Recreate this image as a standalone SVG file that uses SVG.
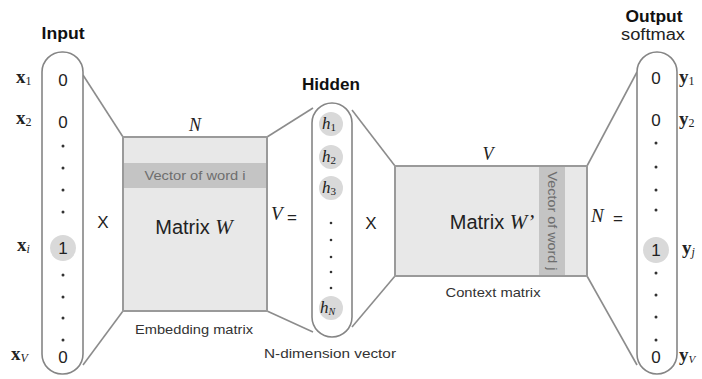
<svg xmlns="http://www.w3.org/2000/svg" width="702" height="379" viewBox="0 0 702 379">
  <style>
    .cap { fill: #ffffff; stroke: #858585; stroke-width: 1.6; }
    .mat { fill: #e8e8e8; stroke: #9a9a9a; stroke-width: 2; }
    .band { fill: #c4c4c4; }
    .conn { stroke: #8c8c8c; stroke-width: 1.6; fill: none; }
    .sans { font-family: "Liberation Sans", Arial, sans-serif; fill: #222; }
    .head { font-family: "Liberation Sans", Arial, sans-serif; font-weight: bold; font-size: 16px; fill: #111; text-anchor: middle; }
    .val { font-family: "Liberation Sans", Arial, sans-serif; font-size: 17px; fill: #222; text-anchor: middle; }
    .dot { fill: #333; }
    .hi { fill: #d9d9d9; }
    .math { font-family: "Liberation Serif", "Times New Roman", serif; fill: #222; }
    .vec { font-family: "Liberation Serif", "Times New Roman", serif; font-weight: bold; font-size: 19px; fill: #222; }
    .small { font-family: "Liberation Sans", Arial, sans-serif; font-size: 13.5px; fill: #333; text-anchor: middle; }
    .bandtxt { font-family: "Liberation Sans", Arial, sans-serif; font-size: 13px; fill: #6e6e6e; text-anchor: middle; }
    .op { font-family: "Liberation Sans", Arial, sans-serif; font-size: 17px; fill: #222; text-anchor: middle; }
  </style>

  <!-- connectors between layers and matrices -->
  <g id="connectors">
    <line class="conn" x1="83" y1="75" x2="123" y2="137"/>
    <line class="conn" x1="83" y1="365" x2="123" y2="311"/>
    <line class="conn" x1="267" y1="137" x2="313" y2="108"/>
    <line class="conn" x1="267" y1="311" x2="313" y2="332"/>
    <line class="conn" x1="352" y1="110" x2="395" y2="166"/>
    <line class="conn" x1="352" y1="327" x2="395" y2="276"/>
    <line class="conn" x1="587" y1="166" x2="637" y2="72"/>
    <line class="conn" x1="587" y1="276" x2="637" y2="365"/>
  </g>

  <!-- input one-hot vector -->
  <g id="input">
    <text class="head" x="63" y="39" textLength="43" lengthAdjust="spacingAndGlyphs">Input</text>
    <rect class="cap" x="42" y="52" width="41" height="322" rx="20" ry="20"/>
    <text class="val" x="63" y="86">0</text>
    <text class="val" x="63" y="128">0</text>
    <circle class="dot" cx="63" cy="146" r="1.5"/>
    <circle class="dot" cx="63" cy="168" r="1.5"/>
    <circle class="dot" cx="63" cy="190" r="1.5"/>
    <circle class="dot" cx="63" cy="212" r="1.5"/>
    <circle class="hi" cx="63" cy="248" r="13"/>
    <text class="val" x="63" y="254">1</text>
    <circle class="dot" cx="63" cy="275" r="1.5"/>
    <circle class="dot" cx="63" cy="297" r="1.5"/>
    <circle class="dot" cx="63" cy="318" r="1.5"/>
    <circle class="dot" cx="63" cy="340" r="1.5"/>
    <text class="val" x="63" y="363">0</text>
    <text class="vec" x="16" y="83">x<tspan font-size="12" font-weight="normal" dy="2">1</tspan></text>
    <text class="vec" x="16" y="124">x<tspan font-size="12" font-weight="normal" dy="2">2</tspan></text>
    <text class="vec" x="17" y="251">x<tspan font-size="12" font-weight="normal" font-style="italic" dy="2">i</tspan></text>
    <text class="vec" x="11" y="360">x<tspan font-size="12" font-weight="normal" font-style="italic" dy="2">V</tspan></text>
  </g>

  <text class="op" x="103" y="228">X</text>

  <!-- embedding matrix W -->
  <g id="matrix-w">
    <text class="math" x="195" y="131" font-size="18" font-style="italic" text-anchor="middle">N</text>
    <rect class="mat" x="123" y="137" width="144" height="174"/>
    <rect class="band" x="124" y="163" width="142" height="25"/>
    <text class="bandtxt" x="195" y="180" textLength="101" lengthAdjust="spacingAndGlyphs">Vector of word i</text>
    <text class="sans" x="194" y="234" font-size="20" text-anchor="middle">Matrix <tspan class="math" font-style="italic" font-size="21">W</tspan></text>
    <text class="small" x="194" y="334" textLength="118" lengthAdjust="spacingAndGlyphs">Embedding matrix</text>
    <text class="math" x="271" y="220" font-size="19" font-style="italic">V</text>
    <text class="op" x="292" y="223">=</text>
  </g>

  <!-- hidden layer -->
  <g id="hidden">
    <text class="head" x="331" y="90" textLength="58" lengthAdjust="spacingAndGlyphs">Hidden</text>
    <rect class="cap" x="312" y="103" width="40" height="234" rx="20" ry="20"/>
    <circle class="hi" cx="331" cy="124" r="12"/>
    <circle class="hi" cx="331" cy="157" r="12"/>
    <circle class="hi" cx="331" cy="188" r="12"/>
    <circle class="hi" cx="331" cy="308" r="12"/>
    <text class="math" x="322" y="129" font-size="17" font-style="italic">h<tspan font-size="11" font-style="normal" dy="2">1</tspan></text>
    <text class="math" x="322" y="162" font-size="17" font-style="italic">h<tspan font-size="11" font-style="normal" dy="2">2</tspan></text>
    <text class="math" x="322" y="193" font-size="17" font-style="italic">h<tspan font-size="11" font-style="normal" dy="2">3</tspan></text>
    <text class="math" x="320" y="313" font-size="17" font-style="italic">h<tspan font-size="10" dy="2">N</tspan></text>
    <circle class="dot" cx="331" cy="223" r="1.3"/>
    <circle class="dot" cx="331" cy="240" r="1.3"/>
    <circle class="dot" cx="331" cy="257" r="1.3"/>
    <circle class="dot" cx="331" cy="272" r="1.3"/>
    <circle class="dot" cx="331" cy="288" r="1.3"/>
    <text class="small" x="330" y="358" textLength="132" lengthAdjust="spacingAndGlyphs">N-dimension vector</text>
  </g>

  <text class="op" x="371" y="229">X</text>

  <!-- context matrix W' -->
  <g id="matrix-w-prime">
    <text class="math" x="488" y="160" font-size="18" font-style="italic" text-anchor="middle">V</text>
    <rect class="mat" x="395" y="166" width="192" height="110"/>
    <rect class="band" x="539" y="167" width="26" height="108"/>
    <text class="bandtxt" transform="translate(548 221) rotate(90)" textLength="99" lengthAdjust="spacingAndGlyphs">Vector of word j</text>
    <text class="sans" x="492" y="229" font-size="20" text-anchor="middle">Matrix <tspan class="math" font-style="italic" font-size="21">W’</tspan></text>
    <text class="small" x="493" y="297" textLength="95" lengthAdjust="spacingAndGlyphs">Context matrix</text>
    <text class="math" x="591" y="222" font-size="19" font-style="italic">N</text>
    <text class="op" x="618" y="224">=</text>
  </g>

  <!-- output softmax vector -->
  <g id="output">
    <text class="head" x="654" y="22" textLength="57" lengthAdjust="spacingAndGlyphs">Output</text>
    <text class="sans" x="653" y="40" font-size="16" text-anchor="middle" textLength="64" lengthAdjust="spacingAndGlyphs">softmax</text>
    <rect class="cap" x="637" y="52" width="40" height="322" rx="20" ry="20"/>
    <text class="val" x="656" y="84">0</text>
    <text class="val" x="656" y="126">0</text>
    <circle class="dot" cx="656" cy="143" r="1.5"/>
    <circle class="dot" cx="656" cy="167" r="1.5"/>
    <circle class="dot" cx="656" cy="190" r="1.5"/>
    <circle class="dot" cx="656" cy="210" r="1.5"/>
    <circle class="hi" cx="656" cy="250" r="13"/>
    <text class="val" x="656" y="256">1</text>
    <circle class="dot" cx="656" cy="273" r="1.5"/>
    <circle class="dot" cx="656" cy="295" r="1.5"/>
    <circle class="dot" cx="656" cy="317" r="1.5"/>
    <circle class="dot" cx="656" cy="340" r="1.5"/>
    <text class="val" x="656" y="363">0</text>
    <text class="vec" x="679" y="83">y<tspan font-size="12" font-weight="normal" dy="2">1</tspan></text>
    <text class="vec" x="679" y="125">y<tspan font-size="12" font-weight="normal" dy="2">2</tspan></text>
    <text class="vec" x="682" y="254">y<tspan font-size="12" font-weight="normal" font-style="italic" dy="2">j</tspan></text>
    <text class="vec" x="679" y="361">y<tspan font-size="11" font-weight="normal" font-style="italic" dy="2">V</tspan></text>
  </g>
</svg>
